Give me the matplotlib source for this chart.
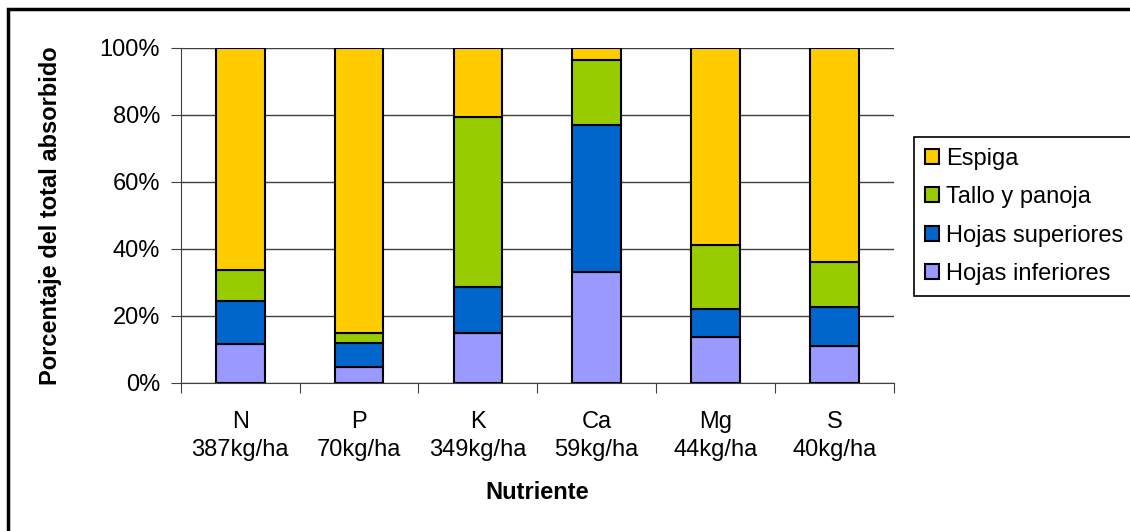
import matplotlib.pyplot as plt
from matplotlib.patches import Rectangle
from matplotlib.ticker import FuncFormatter

plt.rcParams['font.family'] = ['Liberation Sans', 'DejaVu Sans']

nutrientes = ['N', 'P', 'K', 'Ca', 'Mg', 'S']
totales = ['387kg/ha', '70kg/ha', '349kg/ha', '59kg/ha', '44kg/ha', '40kg/ha']

# each part's share of the total absorbed (%)
hojas_inferiores = [11.5, 4.8, 14.8, 33.2, 13.7, 11.0]
hojas_superiores = [12.8, 7.2, 13.9, 43.8, 8.4, 11.7]
tallo_panoja = [9.5, 2.9, 50.7, 19.5, 18.9, 13.3]
espiga = [66.2, 85.1, 20.6, 3.5, 59.0, 64.0]

series = [
    ('Hojas inferiores', hojas_inferiores, '#9999FF'),
    ('Hojas superiores', hojas_superiores, '#0066CC'),
    ('Tallo y panoja', tallo_panoja, '#99CC00'),
    ('Espiga', espiga, '#FFCC00'),
]

fs = 17

fig = plt.figure(figsize=(11.3, 5.31), dpi=100)
ax = fig.add_axes([0.160, 0.279, 0.631, 0.631])

x = range(len(nutrientes))
bottom = [0.0] * len(nutrientes)
handles = []
for name, vals, col in series:
    b = ax.bar(x, vals, 0.41, bottom=bottom, color=col, edgecolor='black',
               linewidth=1.5, label=name, zorder=3)
    handles.append(b)
    bottom = [bo + v for bo, v in zip(bottom, vals)]

ax.set_ylim(0, 100)
ax.set_xlim(-0.5, len(nutrientes) - 0.5)
ax.set_yticks(range(0, 101, 20))
ax.yaxis.set_major_formatter(FuncFormatter(lambda v, p: f'{v:.0f}%'))
ax.grid(axis='y', color='#404040', linewidth=1, zorder=0)
ax.set_axisbelow(True)

ax.set_xticks([i + 0.5 for i in range(-1, len(nutrientes))])
ax.set_xticklabels([])
ax.set_xticks(list(x), minor=True)
ax.set_xticklabels([f'{n}\n{t}' for n, t in zip(nutrientes, totales)],
                   minor=True, fontsize=fs, linespacing=1.35)
ax.tick_params(axis='x', which='minor', length=0, pad=20)
ax.tick_params(axis='x', which='major', length=7, color='#404040')
ax.tick_params(axis='y', length=7, color='#404040', labelsize=fs, pad=8)

for s in ['top', 'right']:
    ax.spines[s].set_visible(False)
for s in ['left', 'bottom']:
    ax.spines[s].set_color('#404040')

ax.set_ylabel('Porcentaje del total absorbido', fontsize=fs, fontweight='bold', labelpad=27)
ax.set_xlabel('Nutriente', fontsize=fs, fontweight='bold', labelpad=15)

leg = ax.legend(handles[::-1], [s[0] for s in series][::-1],
                loc='upper left', bbox_to_anchor=(914 / 1130, 1 - 137 / 531),
                bbox_transform=fig.transFigure, fontsize=fs,
                handlelength=0.6, handleheight=0.6, handletextpad=0.3,
                labelspacing=0.7, borderpad=0.45, borderaxespad=0,
                fancybox=False, edgecolor='black', framealpha=1)
leg.get_frame().set_linewidth(1.2)

fig.patches.append(Rectangle((8 / 1130, -0.1), 1.2, 1 - 9 / 531 + 0.1,
                             transform=fig.transFigure, fill=False,
                             edgecolor='black', linewidth=2.5))

fig.savefig('out.png', dpi=100)
